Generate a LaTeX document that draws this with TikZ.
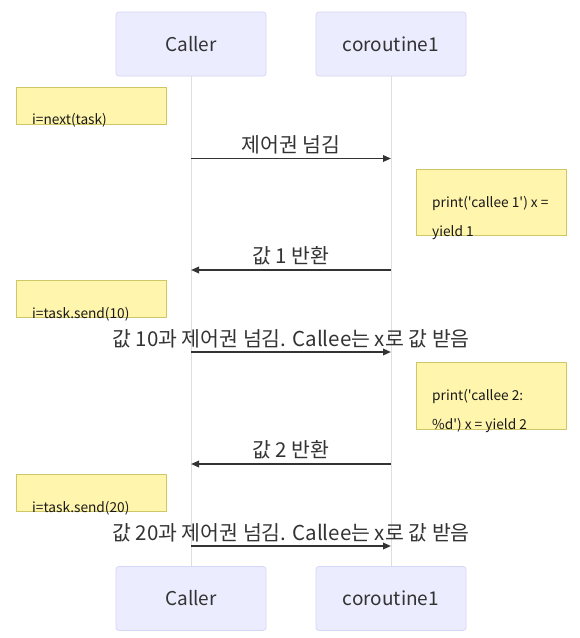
\documentclass[tikz,border=0pt]{standalone}
\usepackage{fontspec}
\setmainfont{Noto Sans CJK KR}
\newfontfamily\notefont{Noto Sans CJK KR}
\usetikzlibrary{arrows.meta}
\definecolor{actorfill}{HTML}{ECECFF}
\definecolor{actorline}{HTML}{D6D6F6}
\definecolor{notefill}{HTML}{FFF5AD}
\definecolor{noteline}{HTML}{CFC766}
\definecolor{life}{HTML}{DEDEDE}
\definecolor{ink}{HTML}{333333}
\begin{document}
\begin{tikzpicture}[x=1pt,y=-1pt,
 actor/.style={draw=actorline, fill=actorfill, rounded corners=3pt, minimum width=150pt, minimum height=64pt, inner sep=0pt, font=\fontsize{19}{22}\selectfont, text=ink, line width=0.8pt},
 notebox/.style={draw=noteline, fill=notefill, minimum width=150pt, inner sep=0pt, line width=0.8pt},
 notetext/.style={anchor=base west, font=\notefont\fontsize{13.7}{16}\selectfont, text=black!90, inner sep=0pt},
 msg/.style={font=\fontsize{20.5}{24}\selectfont, text=ink, inner sep=0pt},
 arr/.style={draw=ink, line width=1.7pt, -{Triangle[length=8pt,width=6.5pt]}},
 lifeline/.style={draw=life, line width=1pt}]
\useasboundingbox (0,0) rectangle (580,638);
\fill[white] (0,0) rectangle (580,638);
% actors
\node[actor] (callerT) at (191,44) {Caller};
\node[actor] (coT) at (391,44) {coroutine1};
\node[actor] (callerB) at (191,598.5) {Caller};
\node[actor] (coB) at (391,598.5) {coroutine1};
% lifelines
\draw[lifeline] (callerT.south) -- (callerB.north);
\draw[lifeline] (coT.south) -- (coB.north);
% notes
\node[notebox, minimum height=37pt] (n1) at (91,105.5) {};
\node[notetext] (n1t) at (32,124) {i=next(task)};
\node[notebox, minimum height=66pt] (n2) at (491,202) {};
\node[notetext] (n2t) at (432,207) {print('callee 1') x =};
\node[notetext] (n2u) at (432,236) {yield 1};
\node[notebox, minimum height=37pt] (n3) at (91,298.5) {};
\node[notetext] (n3t) at (32,318) {i=task.send(10)};
\node[notebox, minimum height=67pt] (n4) at (491,395.5) {};
\node[notetext] (n4t) at (432,400) {print('callee 2:};
\node[notetext] (n4u) at (432,429) {\%d') x = yield 2};
\node[notebox, minimum height=37pt] (n5) at (91,492.5) {};
\node[notetext] (n5t) at (32,512) {i=task.send(20)};
% message coordinates
\coordinate (a1) at (191,158.5); \coordinate (b1) at (391,158.5);
\coordinate (a2) at (191,270); \coordinate (b2) at (391,270);
\coordinate (a3) at (191,352); \coordinate (b3) at (391,352);
\coordinate (a4) at (191,464); \coordinate (b4) at (391,464);
\coordinate (a5) at (191,546); \coordinate (b5) at (391,546);
% messages
\node[msg] (m1) at (291,145) {제어권 넘김};
\draw[arr] (a1) -- (b1);
\node[msg] (m2) at (291,256) {값 1 반환};
\draw[arr] (b2) -- (a2);
\node[msg] (m3) at (291,339) {값 10과 제어권 넘김. Callee는 x로 값 받음};
\draw[arr] (a3) -- (b3);
\node[msg] (m4) at (291,450) {값 2 반환};
\draw[arr] (b4) -- (a4);
\node[msg] (m5) at (291,533) {값 20과 제어권 넘김. Callee는 x로 값 받음};
\draw[arr] (a5) -- (b5);
\end{tikzpicture}
\end{document}
